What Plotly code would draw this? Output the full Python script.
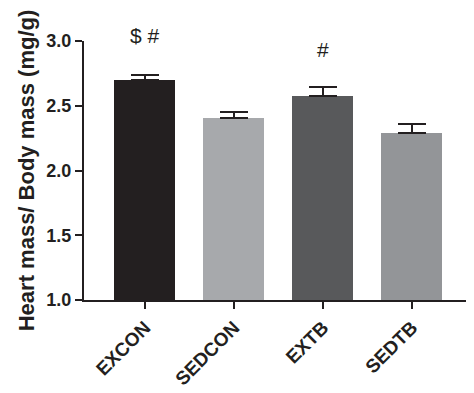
import plotly.graph_objects as go

categories = ["EXCON", "SEDCON", "EXTB", "SEDTB"]
means = [2.70, 2.404, 2.574, 2.288]
errors = [0.04, 0.05, 0.07, 0.07]
colors = ["#231f20", "#a7a9ac", "#58595b", "#939598"]
sig_labels = ["$ #", "", "#", ""]
sig_shift = [6, 0, -8, 0]

FONT = "Liberation Sans, Arial, sans-serif"

fig = go.Figure()
fig.add_trace(go.Bar(
    x=categories, y=[m - 1.0 for m in means], base=1.0,
    marker=dict(color=colors, line=dict(width=0)),
    width=0.685,
    error_y=dict(type="data", array=errors, arrayminus=[0]*len(errors),
                 symmetric=False, color="#231f20", thickness=2, width=14),
))

for c, lab, sh in zip(categories, sig_labels, sig_shift):
    if lab:
        fig.add_annotation(x=c, y=3.0, text=lab, showarrow=False,
                           yanchor="middle", yshift=sh,
                           font=dict(family=FONT, size=21, color="#231f20"),
                           xref="x", yref="y")

# page body has an 8px margin, so the figure is offset by (8, 8)
fig.update_layout(
    width=466, height=385,
    margin=dict(l=76, r=0, t=33, b=93),
    paper_bgcolor="white", plot_bgcolor="white",
    showlegend=False,
    bargap=0,
)
fig.update_xaxes(
    range=[-0.685, 3.697],
    showline=True, linecolor="#231f20", linewidth=2,
    ticks="outside", ticklen=7, tickwidth=2, tickcolor="#231f20",
    tickangle=-45,
    tickfont=dict(family=FONT, size=19, color="#231f20", weight="bold"),
    showgrid=False, zeroline=False,
)
fig.update_yaxes(
    range=[1.0, 3.0], tickvals=[1.0, 1.5, 2.0, 2.5, 3.0],
    ticktext=["1.0", "1.5", "2.0", "2.5", "3.0"],
    showline=True, linecolor="#231f20", linewidth=2,
    ticks="outside", ticklen=7, tickwidth=2, tickcolor="#231f20",
    tickfont=dict(family=FONT, size=18, color="#231f20", weight="bold"),
    title=dict(text="Heart mass/ Body mass (mg/g)",
               font=dict(family=FONT, size=22, color="#231f20", weight="bold"),
               standoff=6),
    showgrid=False, zeroline=False,
)

fig.write_html("out.html")
